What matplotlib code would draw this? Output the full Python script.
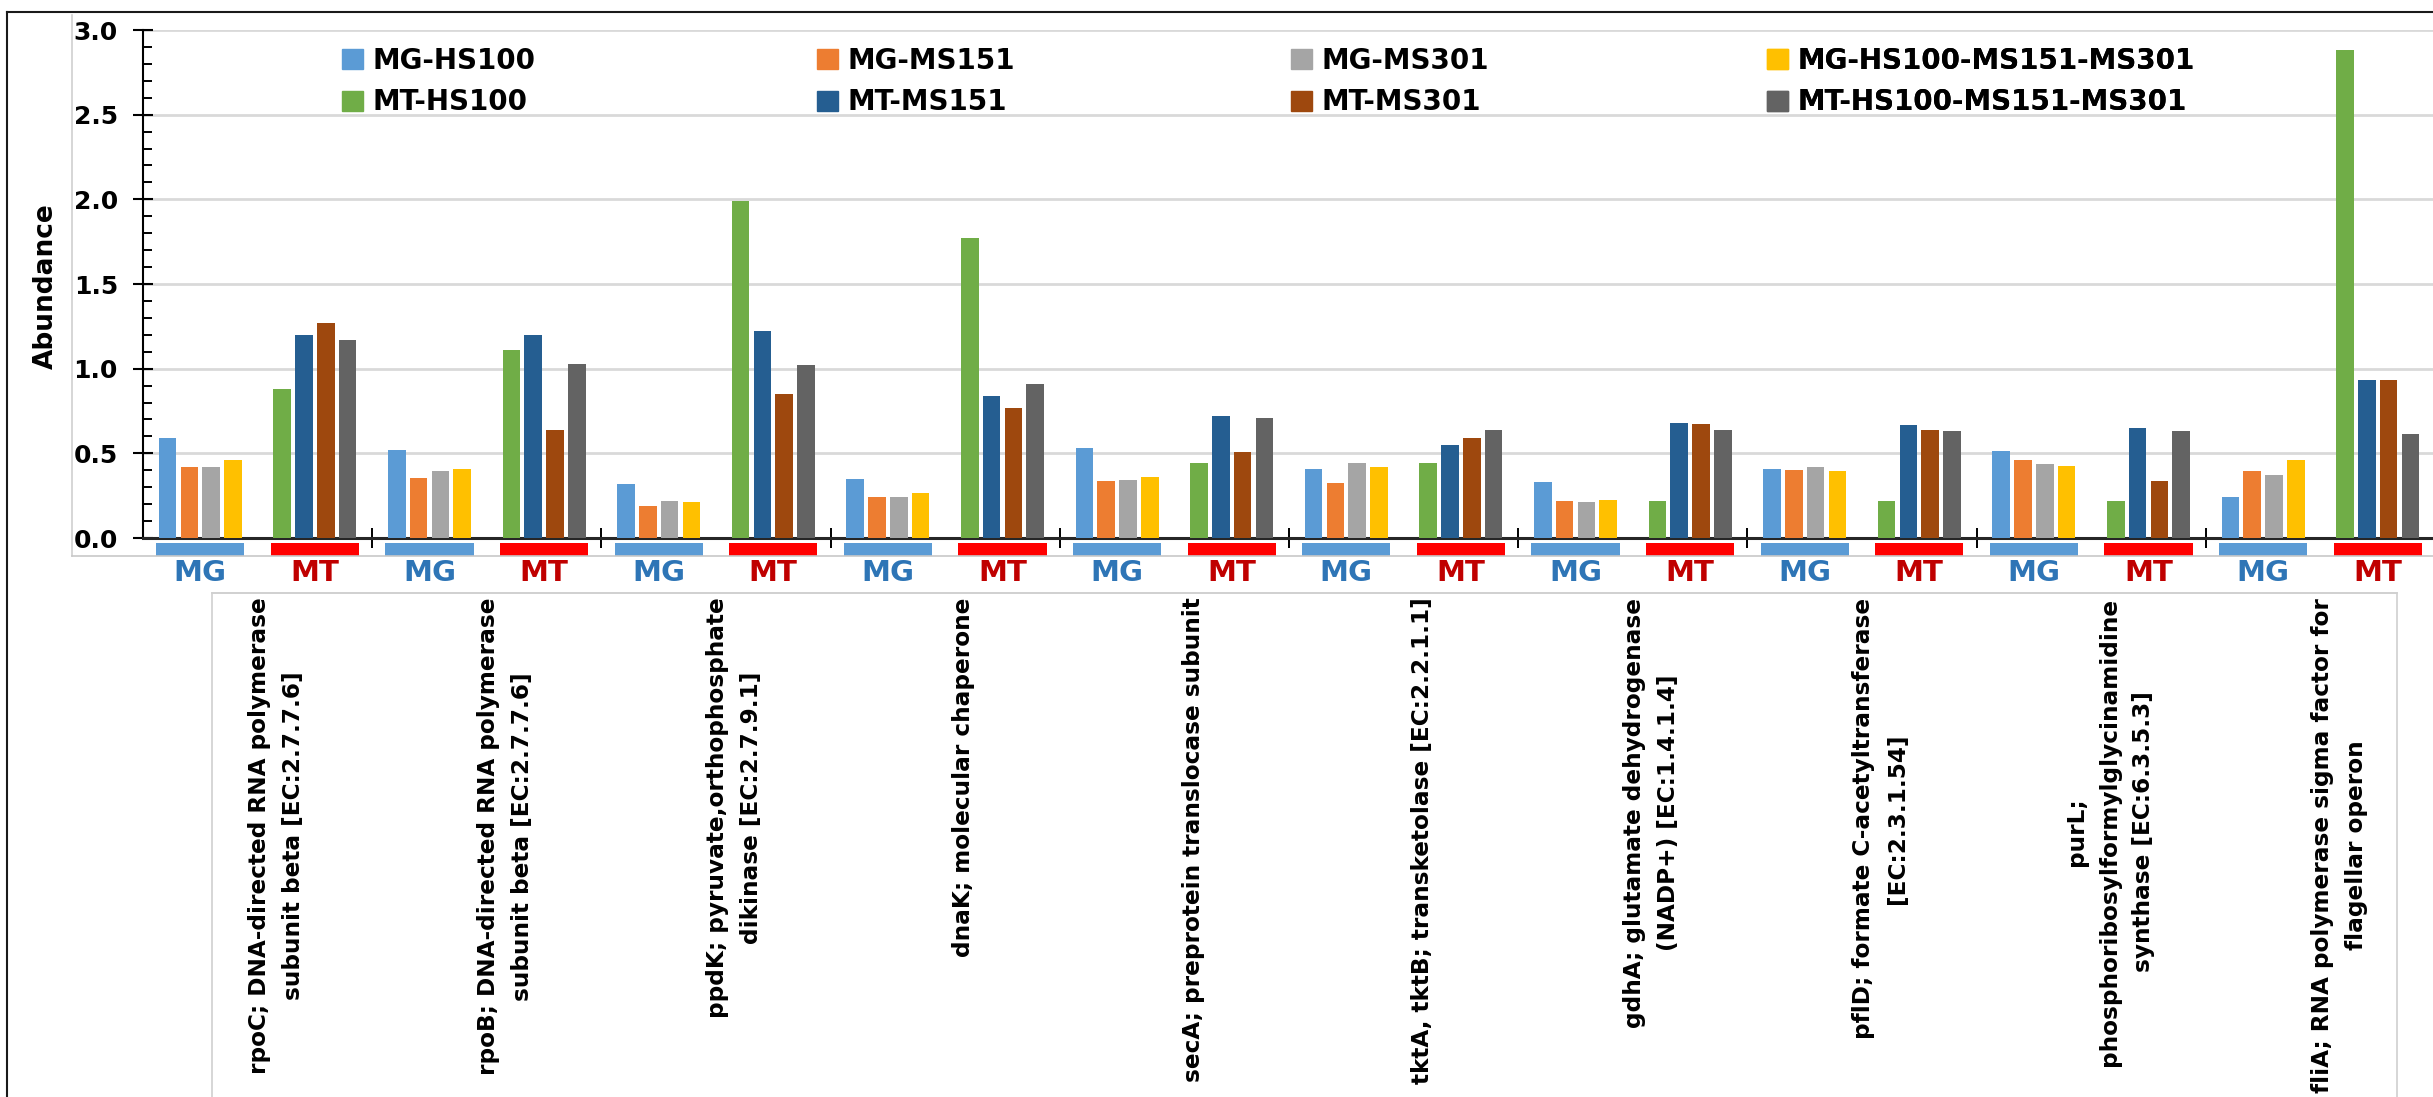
import matplotlib
matplotlib.use('Agg')
import matplotlib.pyplot as plt
import numpy as np
from matplotlib.patches import Patch
from matplotlib.lines import Line2D
from matplotlib.ticker import MultipleLocator, FormatStrFormatter

plt.rcParams['font.family'] = ['DejaVu Sans']
plt.rcParams['font.weight'] = 'bold'

# gene labels (outer category)
genes = [
    'rpoC; DNA-directed RNA polymerase\nsubunit beta [EC:2.7.7.6]',
    'rpoB; DNA-directed RNA polymerase\nsubunit beta [EC:2.7.7.6]',
    'ppdK; pyruvate,orthophosphate\ndikinase [EC:2.7.9.1]',
    'dnaK; molecular chaperone',
    'secA; preprotein translocase subunit',
    'tktA, tktB; transketolase [EC:2.2.1.1]',
    'gdhA; glutamate dehydrogenase\n(NADP+) [EC:1.4.1.4]',
    'pflD; formate C-acetyltransferase\n[EC:2.3.1.54]',
    'purL;\nphosphoribosylformylglycinamidine\nsynthase [EC:6.3.5.3]',
    'fliA; RNA polymerase sigma factor for\nflagellar operon',
]

# metagenome (MG) abundances
mg_hs100 = [0.59, 0.52, 0.32, 0.35, 0.53, 0.41, 0.33, 0.41, 0.515, 0.245]
mg_ms151 = [0.42, 0.355, 0.19, 0.245, 0.335, 0.325, 0.22, 0.40, 0.46, 0.395]
mg_ms301 = [0.42, 0.395, 0.22, 0.245, 0.34, 0.44, 0.21, 0.42, 0.435, 0.37]
mg_all = [0.46, 0.41, 0.21, 0.265, 0.36, 0.42, 0.225, 0.395, 0.425, 0.46]

# metatranscriptome (MT) abundances
mt_hs100 = [0.88, 1.11, 1.99, 1.77, 0.44, 0.44, 0.22, 0.22, 0.22, 2.88]
mt_ms151 = [1.20, 1.20, 1.22, 0.84, 0.72, 0.55, 0.68, 0.665, 0.65, 0.935]
mt_ms301 = [1.27, 0.635, 0.85, 0.77, 0.505, 0.59, 0.675, 0.635, 0.335, 0.935]
mt_all = [1.17, 1.03, 1.02, 0.91, 0.71, 0.64, 0.64, 0.63, 0.63, 0.615]

mg_names = ['MG-HS100', 'MG-MS151', 'MG-MS301', 'MG-HS100-MS151-MS301']
mt_names = ['MT-HS100', 'MT-MS151', 'MT-MS301', 'MT-HS100-MS151-MS301']
mg_colors = ['#5B9BD5', '#ED7D31', '#A5A5A5', '#FFC000']
mt_colors = ['#70AD47', '#255E91', '#9E480E', '#636363']

W, H = 2433, 1097


def fx(px):
    return px / W


def fy(py):
    return 1 - py / H


fig = plt.figure(figsize=(W / 100, H / 100), dpi=100)
ax = fig.add_axes([fx(143), fy(538), fx(2435) - fx(143), fy(30) - fy(538)])
ax.patch.set_alpha(0)

g = np.arange(len(genes))
step = 0.19
bw = 0.153
mg_series = [mg_hs100, mg_ms151, mg_ms301, mg_all]
mt_series = [mt_hs100, mt_ms151, mt_ms301, mt_all]
for k in range(4):
    ax.bar(2 * g + (k - 1.5) * step, mg_series[k], bw, color=mg_colors[k], zorder=3)
    ax.bar(2 * g + 1 + (k - 1.5) * step, mt_series[k], bw, color=mt_colors[k], zorder=3)

# MG / MT colour bands under the axis
ax.bar(2 * g, 0.076, 0.77, bottom=-0.106, color='#5B9BD5', clip_on=False, zorder=3)
ax.bar(2 * g + 1, 0.076, 0.77, bottom=-0.106, color='#FF0000', clip_on=False, zorder=3)

for i in range(len(genes)):
    ax.annotate('MG', xy=(2 * i, 0), xycoords=('data', 'axes fraction'),
                xytext=(0, -25.5), textcoords='offset points',
                ha='center', va='center', fontsize=21, color='#2E75B6')
    ax.annotate('MT', xy=(2 * i + 1, 0), xycoords=('data', 'axes fraction'),
                xytext=(0, -25.5), textcoords='offset points',
                ha='center', va='center', fontsize=21, color='#C00000')
    ax.annotate(genes[i], xy=(2 * i + 0.5, 0), xycoords=('data', 'axes fraction'),
                xytext=(13.5, -43), textcoords='offset points',
                rotation=90, ha='center', va='top', multialignment='center',
                fontsize=16.7, linespacing=1.6)

ax.set_xlim(-0.5, 19.5)
ax.set_ylim(0, 3)
ax.set_yticks(np.arange(0, 3.01, 0.5))
ax.yaxis.set_major_formatter(FormatStrFormatter('%.1f'))
ax.yaxis.set_minor_locator(MultipleLocator(0.1))
ax.set_xticks(np.arange(1.5, 18, 2))
ax.tick_params(axis='x', direction='inout', length=15, width=1.4, labelbottom=False)
ax.tick_params(axis='y', which='major', direction='inout', length=14, width=1.5,
               labelsize=18, pad=11)
ax.tick_params(axis='y', which='minor', direction='in', length=6.5, width=1.4)
ax.yaxis.grid(True, which='major', color='#D9D9D9', lw=2)
ax.set_axisbelow(True)
for s in ['top', 'right']:
    ax.spines[s].set_visible(False)
ax.spines['left'].set_linewidth(1.5)
ax.spines['bottom'].set_linewidth(2.2)
ax.spines['bottom'].set_color('#262626')

fig.text(fx(46), fy(286), 'Abundance', rotation=90, ha='center', va='center',
         fontsize=19)

# legend: four equal-width columns
col_x = [342, 817, 1291, 1767]
for k in range(4):
    leg = ax.legend(handles=[Patch(color=mg_colors[k]), Patch(color=mt_colors[k])],
                    labels=[mg_names[k], mt_names[k]], loc='upper left',
                    bbox_to_anchor=(fx(col_x[k]), fy(47)), bbox_transform=fig.transFigure,
                    frameon=False, fontsize=20, handlelength=0.75, handleheight=0.72,
                    handletextpad=0.35, labelspacing=0.48, borderpad=0, borderaxespad=0)
    ax.add_artist(leg)

# chart frame and light grey category box lines
tf = fig.transFigure
fig.add_artist(Line2D([fx(7), 1], [fy(12), fy(12)], transform=tf, color='#1a1a1a', lw=1.5))
fig.add_artist(Line2D([fx(7), fx(7)], [fy(12), 0], transform=tf, color='#1a1a1a', lw=1.5))
fig.add_artist(Line2D([fx(72), fx(72)], [fy(15), fy(556)], transform=tf, color='#D0D0D0', lw=1.2))
fig.add_artist(Line2D([fx(72), 1], [fy(556), fy(556)], transform=tf, color='#C8C8C8', lw=1.2))
fig.add_artist(Line2D([fx(212), fx(2397)], [fy(593), fy(593)], transform=tf, color='#C8C8C8', lw=1.2))
fig.add_artist(Line2D([fx(212), fx(212)], [fy(593), 0], transform=tf, color='#D0D0D0', lw=1.2))
fig.add_artist(Line2D([fx(2397), fx(2397)], [fy(593), 0], transform=tf, color='#D0D0D0', lw=1.2))

fig.savefig('out.png', dpi=100)
